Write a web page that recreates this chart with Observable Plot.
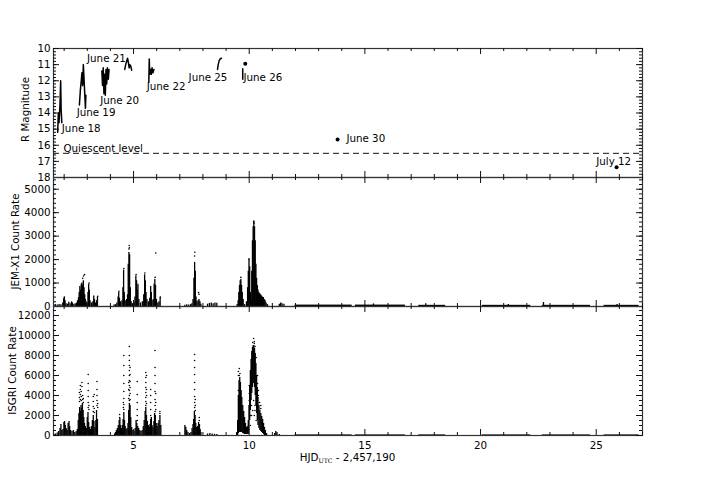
<!DOCTYPE html>
<html><head><meta charset="utf-8">
<script src="https://cdn.jsdelivr.net/npm/d3@7"></script>
<script src="https://cdn.jsdelivr.net/npm/@observablehq/plot@0.6"></script>
<style>
body{margin:0;background:#fff;}
#chart svg{display:block;overflow:visible;}
</style></head><body><div id="chart"></div>
<script>
// ---------- Optical R-band light curve (HJD - 2,457,190, R mag) ----------
const june18 = [[1.72,15.2],[1.75,14.0],[1.78,14.6],[1.82,13.5],[1.85,12.0],[1.87,13.8],[1.90,14.6]];
const june19 = [[2.66,13.5],[2.70,12.6],[2.74,12.0],[2.77,11.5],[2.80,12.3],[2.83,11.0],[2.86,11.9],[2.89,12.8],[2.92,13.7],[2.94,12.9]];
const june20 = [[3.63,11.4],[3.66,12.3],[3.69,11.2],[3.72,12.8],[3.75,11.6],[3.78,12.9],[3.81,11.3],[3.84,12.2],[3.87,11.2],[3.91,11.9],[3.94,11.3]];
const june21 = [[4.62,11.3],[4.66,11.0],[4.70,10.8],[4.74,10.6],[4.78,10.9],[4.81,11.2],[4.84,11.0],[4.88,11.1],[4.92,11.35]];
const june22 = [[5.66,12.1],[5.68,10.65],[5.70,11.6],[5.74,11.3],[5.77,11.6],[5.80,11.2],[5.84,11.5],[5.88,11.3]];
const june25 = [[8.63,11.3],[8.66,11.0],[8.70,10.75],[8.76,10.62],[8.80,10.6]];
const june26 = [[9.72,11.26],[9.72,11.9]];
const singleT   = [9.83, 13.82, 25.88];
const singleMag = [10.95, 15.65, 17.37];
const quiescentMag = 16.5;
const labelText = ["June 18","June 19","June 20","June 21","June 22","June 25","June 26","June 30","July 12","Quiescent level"];
const labelT    = [1.90, 2.54, 3.56, 2.99, 5.57, 7.38, 9.75, 14.2, 25.0, 1.97];
const labelMag  = [15.0, 14.0, 13.23, 10.64, 12.4, 11.82, 11.82, 15.6, 17.02, 16.2];

// ---------- JEM-X1 count rate: [t, peak of dense column] ----------
const jemCols = [
 [1.56,60],[1.62,80],[1.70,60],[1.78,90],[1.86,70],[1.94,150],[1.98,330],[2.01,385],[2.04,250],[2.08,120],
 [2.14,100],[2.20,180],[2.26,120],[2.32,200],[2.36,150],[2.42,90],[2.48,120],[2.54,150],[2.58,250],[2.62,380],
 [2.65,600],[2.68,850],[2.71,700],[2.74,950],[2.77,1000],[2.80,900],[2.83,1100],[2.86,800],[2.89,500],[2.92,300],
 [2.95,200],[2.99,150],[3.03,600],[3.06,950],[3.09,700],[3.12,250],[3.18,150],[3.24,200],[3.28,450],[3.31,300],
 [3.36,150],[3.40,250],[3.44,400],
 [4.16,60],[4.22,80],[4.28,150],[4.33,400],[4.36,600],[4.39,350],[4.44,200],[4.50,250],[4.54,800],[4.57,1550],
 [4.60,600],[4.64,250],[4.70,300],[4.74,500],[4.77,1800],[4.80,2300],[4.83,2200],[4.86,800],[4.90,200],[4.96,120],
 [5.02,150],[5.06,400],[5.10,1300],[5.13,1100],[5.16,700],[5.19,950],[5.23,300],[5.30,150],[5.38,200],[5.44,500],
 [5.48,1350],[5.51,1100],[5.54,600],[5.58,300],[5.64,200],[5.70,350],[5.74,850],[5.77,600],[5.80,250],[5.85,300],
 [5.89,950],[5.92,1150],[5.95,900],[5.99,300],[6.05,150],[6.10,200],[6.15,380],
 [7.22,50],[7.30,70],[7.38,60],[7.46,80],[7.52,120],[7.57,300],[7.61,1200],[7.64,1880],[7.67,1500],[7.70,400],
 [7.74,200],[7.79,250],[7.83,300],[7.87,200],[7.91,100],
 [8.20,100],[8.28,130],[8.36,150],[8.44,120],[8.52,150],[8.60,140],
 [9.48,80],[9.52,250],[9.55,600],[9.58,900],[9.61,1100],[9.64,1150],[9.67,900],[9.70,600],[9.74,300],[9.80,80],
 [9.88,200],[9.93,800],[9.96,1500],[9.99,2000],[10.02,1700],[10.05,600],[10.08,300],[10.11,1500],[10.14,2800],[10.17,3400],
 [10.20,3600],[10.23,3400],[10.26,2800],[10.29,1800],[10.32,1200],[10.35,900],[10.38,700],[10.41,600],[10.45,550],[10.49,500],
 [10.53,450],[10.57,400],[10.61,380],[10.65,300],[10.69,250],[10.73,150],[10.79,80],[11.30,100],[11.36,150],[11.42,120],
 [11.50,100],
 [15.37,110],[17.63,120],[21.2,90],[22.72,170],[25.9,90]
];
const jemDots = [
 [2.01,400],[2.84,1300],[2.88,1360],[2.80,1200],[3.08,1000],[3.45,440],[4.37,650],[4.58,1620],[4.80,2450],[4.81,2600],
 [4.82,2500],[5.11,1360],[5.49,1430],[5.93,1240],[5.96,2280],[6.16,400],[7.64,2150],[7.65,2310],[7.81,600],[7.83,520],
 [9.64,1240],[9.99,2030],[10.19,3600],[10.20,3640],[10.21,3550]
];
const jemLowStart = [11.98, 14.59, 17.33, 20.08, 22.67, 25.34];
const jemLowEnd   = [14.45, 16.75, 18.49, 22.17, 24.75, 26.85];
const jemLowLevel = [60, 60, 50, 50, 50, 50];

// ---------- ISGRI count rate: [t, low, high] of dense column ----------
const isgCols = [
 [1.56,0,100],[1.62,0,150],[1.70,0,250],[1.76,0,400],[1.82,0,700],[1.86,0,1100],[1.90,0,500],[1.95,0,600],[1.99,0,1300],[2.02,0,1400],
 [2.05,0,1000],[2.09,0,700],[2.13,0,500],[2.17,0,1200],[2.21,0,1400],[2.24,0,900],[2.28,0,500],[2.34,0,400],[2.40,0,500],[2.46,0,300],
 [2.52,0,400],[2.57,0,600],[2.61,0,1500],[2.64,0,2200],[2.67,0,2800],[2.70,0,2400],[2.73,0,3000],[2.76,0,2700],[2.79,0,3200],[2.82,0,2500],
 [2.85,0,1800],[2.88,0,1200],[2.92,0,900],[2.96,0,700],[3.00,0,1800],[3.03,0,2300],[3.06,0,1300],[3.10,0,800],[3.14,0,600],[3.18,0,900],
 [3.22,0,1500],[3.26,0,2000],[3.29,0,1400],[3.33,0,800],[3.37,0,1500],[3.40,0,2500],[3.44,0,1600],
 [4.18,0,150],[4.22,0,300],[4.26,0,500],[4.30,0,700],[4.34,0,1000],[4.38,0,1500],[4.41,0,1700],[4.44,0,1000],[4.48,0,700],[4.52,0,1000],
 [4.55,0,1600],[4.58,0,2300],[4.61,0,1500],[4.64,0,900],[4.68,0,600],[4.72,0,700],[4.76,0,1200],[4.79,0,2500],[4.82,0,3200],[4.85,0,3000],
 [4.88,0,1800],[4.92,0,800],[4.97,0,500],[5.02,0,400],[5.07,0,700],[5.11,0,1500],[5.14,0,1200],[5.18,0,900],[5.22,0,700],[5.27,0,500],
 [5.32,0,400],[5.37,0,500],[5.42,0,900],[5.46,0,1500],[5.50,0,2400],[5.53,0,2800],[5.56,0,2000],[5.60,0,1400],[5.64,0,1000],[5.68,0,800],
 [5.71,0,1100],[5.74,0,1600],[5.77,0,1800],[5.80,0,1000],[5.84,0,800],[5.88,0,1400],[5.91,0,2200],[5.94,0,2000],[5.98,0,1200],[6.02,0,900],
 [6.06,0,1200],[6.10,0,1500],[6.14,0,2000],[6.18,0,1000],
 [7.22,0,1000],[7.26,0,800],[7.30,0,500],[7.35,0,300],[7.42,0,200],[7.48,0,300],[7.53,0,700],[7.57,0,1100],[7.60,0,1600],[7.63,0,2400],
 [7.66,0,2000],[7.69,0,1200],[7.73,0,800],[7.77,0,900],[7.81,0,1300],[7.85,0,1100],[7.88,0,600],[7.91,0,300],
 [8.20,0,150],[8.30,0,200],[8.40,0,150],[8.50,0,120],[8.60,0,100],
 [9.46,0,300],[9.50,0,1500],[9.53,200,4000],[9.56,300,5500],[9.59,300,5800],[9.62,300,5300],[9.65,300,4500],[9.68,300,3800],[9.72,200,3000],[9.76,150,2400],
 [9.80,100,1800],[9.84,100,1200],[9.88,100,800],[9.92,100,900],[9.96,100,1500],[9.99,500,3000],[10.02,1500,5000],[10.05,2500,6500],[10.08,3500,7600],[10.11,4200,8400],
 [10.14,4800,8800],[10.17,5200,9000],[10.20,5200,9000],[10.23,4800,8700],[10.26,4000,8200],[10.29,3000,7200],[10.32,2200,6000],[10.35,1500,4800],[10.38,1000,3800],[10.42,700,3000],
 [10.46,500,2500],[10.50,400,2200],[10.54,300,1900],[10.58,200,1600],[10.62,100,1200],[10.66,0,800],[10.70,0,500],[10.75,0,200],[11.10,0,200],[11.15,0,400],
 [11.20,0,300],[11.30,0,100]
];
const isgDots = [
 [2.66,3400],[2.66,3800],[2.66,4300],[2.70,3600],[2.70,4100],[2.70,4600],[2.70,5000],[2.74,3500],[2.74,3900],[2.74,4400],
 [2.77,4900],[2.77,5300],[2.80,3600],[2.80,4000],[2.83,3300],[2.83,3700],
 [3.04,2800],[3.04,3300],[3.04,3900],[3.04,4500],[3.04,5200],[3.04,6100],[3.07,2600],[3.07,3000],
 [3.26,2400],[3.26,2900],[3.26,3400],[3.26,3900],[3.30,2300],[3.30,2700],[3.30,4100],
 [3.42,3000],[3.42,3500],[3.42,4000],[3.42,4600],[3.42,5400],[3.45,2800],[3.45,3200],
 [4.40,1800],[4.40,2100],
 [4.58,2600],[4.58,3100],[4.58,3700],[4.58,4400],[4.58,5200],[4.58,6000],[4.58,7000],[4.58,8000],[4.56,2800],[4.56,3300],
 [4.82,3500],[4.82,4000],[4.82,4500],[4.82,5000],[4.82,5500],[4.82,6000],[4.82,6500],[4.82,7000],[4.82,7500],[4.82,8000],[4.82,8900],
 [4.85,3600],[4.85,4200],[4.85,4800],[4.85,5400],[4.85,6100],[4.85,6800],[4.79,3700],[4.79,4600],[4.79,5300],
 [5.16,1500],[5.16,2000],[5.16,2600],[5.16,3300],[5.16,4100],[5.16,5400],
 [5.53,3000],[5.53,3400],[5.53,3800],[5.53,4300],[5.53,4800],[5.53,5300],[5.53,5800],[5.53,6300],
 [5.56,3200],[5.56,4000],[5.56,4600],[5.56,6000],
 [5.74,2000],[5.74,2600],[5.74,3300],[5.74,4000],[5.74,4600],
 [5.93,2400],[5.93,3000],[5.93,3600],[5.93,4400],[5.93,5200],[5.93,6000],[5.93,6800],[5.93,8500],[5.96,2600],[5.96,3300],[5.96,4200],
 [6.14,2200],[6.14,2400],
 [7.64,2800],[7.64,3300],[7.64,3900],[7.64,4600],[7.64,5300],[7.64,6100],[7.64,6800],[7.64,7500],[7.64,8100],
 [7.67,2500],[7.67,3000],[7.67,3600],[7.84,1500],[7.84,1800],
 [9.53,4500],[9.53,6000],[9.53,6400],[9.57,6000],[9.57,6700],[9.60,6200],
 [10.00,3500],[10.00,4200],[10.00,5000],[10.05,1000],[10.05,2000],[10.10,2000],[10.10,3000],
 [10.15,9300],[10.15,2500],[10.19,9700],[10.19,3500],[10.22,9400],[10.22,9200],[10.22,2000],
 [10.25,8900],[10.25,2500],[10.25,3000],[10.30,7800],[10.30,1500],[10.36,5200],[10.36,6000],
 [10.40,4000],[10.40,4500],[10.45,3300],[10.50,3000],[10.50,2700]
];
const isgLowStart = [11.98, 14.59, 17.33, 20.08, 22.67, 25.34];
const isgLowEnd   = [14.45, 16.75, 18.49, 22.17, 24.75, 26.85];
const isgLowLevel = [60, 60, 60, 60, 60, 60];

// ---------- ticks and axis titles ----------
const xMajor = [5, 10, 15, 20, 25];
const xTickLabels = ["5", "10", "15", "20", "25"];
const rMajor = [10, 11, 12, 13, 14, 15, 16, 17, 18];
const jemMajor = [0, 1000, 2000, 3000, 4000, 5000];
const isgMajor = [0, 2000, 4000, 6000, 8000, 10000, 12000];
const yTitles = ["R Magnitude", "JEM-X1 Count Rate", "ISGRI Count Rate"];

// ---------- layout ----------
const W = 718, ML = 53, MR = 76, PH = 129;
const IW = W - ML - MR;
const X_DOMAIN = [1.54, 27];
const xMinor = d3.range(2, 28).filter(d => d % 5 !== 0);
const baseStyle = {fontFamily: "DejaVu Sans", fontSize: "10.3px", overflow: "visible", color: "black", background: "transparent"};
const ink = "#111";

function tickMarks(yMaj, yMin) {
  const s = {stroke: ink, strokeWidth: 1};
  return [
    Plot.ruleX(xMajor, {...s, insetTop: PH - 6}),
    Plot.ruleX(xMajor, {...s, insetBottom: PH - 6}),
    Plot.ruleX(xMinor, {...s, insetTop: PH - 3}),
    Plot.ruleX(xMinor, {...s, insetBottom: PH - 3}),
    Plot.ruleY(yMaj, {...s, insetRight: IW - 6}),
    Plot.ruleY(yMaj, {...s, insetLeft: IW - 6}),
    Plot.ruleY(yMin, {...s, insetRight: IW - 3}),
    Plot.ruleY(yMin, {...s, insetLeft: IW - 3})
  ];
}

// Panel 1: optical
const nights = [["June 18", june18], ["June 19", june19], ["June 20", june20], ["June 21", june21], ["June 22", june22], ["June 25", june25], ["June 26", june26]];
const rRows = nights.flatMap(([n, pts]) => pts.map(([t, m]) => ({night: n, t, mag: m})));
const rSingles = singleT.map((t, i) => ({t, mag: singleMag[i]}));
const rLabels = labelText.map((s, i) => ({s, t: labelT[i], mag: labelMag[i]}));

const p1 = Plot.plot({
  width: W, height: 48 + PH, marginTop: 48, marginBottom: 0, marginLeft: ML, marginRight: MR,
  style: baseStyle,
  x: {domain: X_DOMAIN, axis: null},
  y: {domain: [10, 18], reverse: true, axis: null},
  marks: [
    Plot.ruleY([quiescentMag], {stroke: ink, strokeWidth: 1, strokeDasharray: "6,4"}),
    Plot.line(rRows, {x: "t", y: "mag", z: "night", stroke: "black", strokeWidth: 1.5}),
    Plot.dot(rSingles, {x: "t", y: "mag", r: 2, fill: "black", stroke: "none"}),
    Plot.text(rLabels, {x: "t", y: "mag", text: "s", textAnchor: "start", fill: "black"}),
    Plot.frame({stroke: "#333", strokeWidth: 1.2}),
    ...tickMarks(rMajor, d3.range(10, 18.001, 0.2).map(d => +d.toFixed(1))),
    Plot.axisY({ticks: rMajor, tickSize: 0, tickPadding: 3, tickFormat: "d", label: null})
  ]
});

// Panel 2: JEM-X1
const jemRows = jemCols.map(([t, y]) => ({t, y}));
const jemDotRows = jemDots.map(([t, y]) => ({t, y}));
const jemLow = jemLowStart.map((s, i) => ({s, e: jemLowEnd[i], y: jemLowLevel[i]}));
const p2 = Plot.plot({
  width: W, height: PH, marginTop: 0, marginBottom: 0, marginLeft: ML, marginRight: MR,
  style: baseStyle,
  x: {domain: X_DOMAIN, axis: null},
  y: {domain: [0, 5500], axis: null},
  marks: [
    Plot.rect(jemLow, {x1: "s", x2: "e", y1: 0, y2: "y", fill: "black"}),
    Plot.ruleX(jemRows, {x: "t", y1: 0, y2: "y", stroke: "black", strokeWidth: 1.3}),
    Plot.dot(jemDotRows, {x: "t", y: "y", r: 0.8, fill: "black", stroke: "none"}),
    Plot.frame({stroke: "#333", strokeWidth: 1.2}),
    ...tickMarks(jemMajor, d3.range(0, 5501, 200)),
    Plot.axisY({ticks: jemMajor, tickSize: 0, tickPadding: 3, tickFormat: "d", label: null})
  ]
});

// Panel 3: ISGRI
const isgRows = isgCols.map(([t, lo, hi]) => ({t, lo, hi}));
const isgDotRows = isgDots.map(([t, y]) => ({t, y}));
const isgLow = isgLowStart.map((s, i) => ({s, e: isgLowEnd[i], y: isgLowLevel[i]}));
const p3 = Plot.plot({
  width: W, height: PH + 48, marginTop: 0, marginBottom: 48, marginLeft: ML, marginRight: MR,
  style: baseStyle,
  x: {domain: X_DOMAIN, axis: null},
  y: {domain: [0, 12900], axis: null},
  marks: [
    Plot.rect(isgLow, {x1: "s", x2: "e", y1: 0, y2: "y", fill: "black"}),
    Plot.ruleX(isgRows, {x: "t", y1: "lo", y2: "hi", stroke: "black", strokeWidth: 1.3}),
    Plot.dot(isgDotRows, {x: "t", y: "y", r: 0.8, fill: "black", stroke: "none"}),
    Plot.frame({stroke: "#333", strokeWidth: 1.2}),
    ...tickMarks(isgMajor, d3.range(0, 12901, 500)),
    Plot.axisY({ticks: isgMajor, tickSize: 0, tickPadding: 3, tickFormat: "d", label: null}),
    Plot.axisX({ticks: xMajor, tickSize: 0, tickPadding: 6, tickFormat: d => xTickLabels[xMajor.indexOf(d)], label: null})
  ]
});

const chart = document.getElementById("chart");
chart.append(p1, p2, p3);

// y-axis titles (rotated), centred on each panel
function yTitle(svg, text, cx, cy) {
  d3.select(svg).append("text")
    .attr("transform", `translate(${cx},${cy}) rotate(-90)`)
    .attr("text-anchor", "middle").attr("dy", "0.35em").attr("fill", "black")
    .style("font-family", "DejaVu Sans").style("font-size", "10.3px")
    .text(text);
}
yTitle(p1, yTitles[0], 25, 48 + PH / 2 - 3);
yTitle(p2, yTitles[1], 15, PH / 2);
yTitle(p3, yTitles[2], 12, PH / 2);

// x-axis title with subscript
const lbl = d3.select(p3).append("text")
  .attr("x", ML + IW / 2).attr("y", 155)
  .attr("text-anchor", "middle").attr("fill", "black")
  .style("font-family", "DejaVu Sans").style("font-size", "10.3px");
lbl.append("tspan").text("HJD");
lbl.append("tspan").attr("dy", 1.8).style("font-family", "DejaVu Serif").style("font-size", "6.2px").text("UTC");
lbl.append("tspan").attr("dy", -1.8).text(" - 2,457,190");
</script></body></html>
